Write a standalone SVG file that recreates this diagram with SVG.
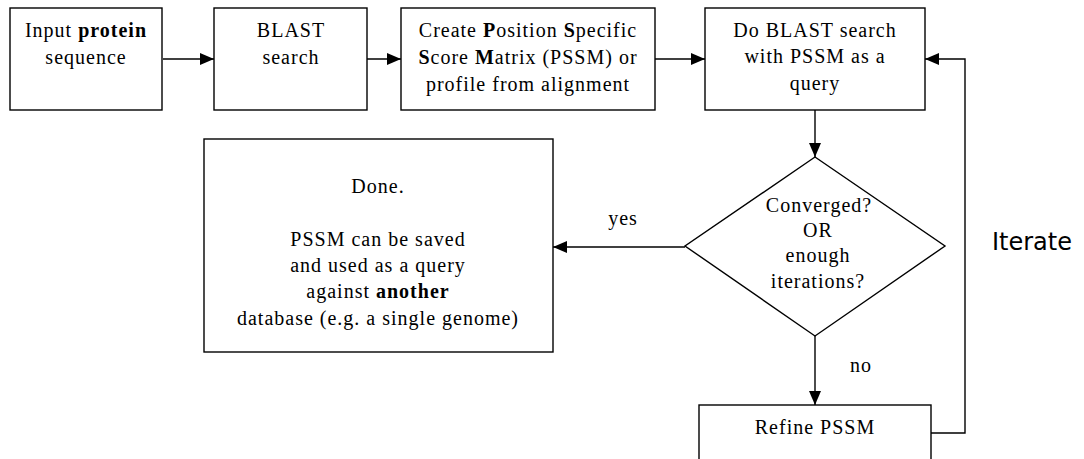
<svg xmlns="http://www.w3.org/2000/svg" width="1084" height="459" viewBox="0 0 1084 459">
<defs>
<marker id="ah" viewBox="0 0 14 12" refX="14" refY="6" markerWidth="14" markerHeight="12" markerUnits="userSpaceOnUse" orient="auto">
<path d="M0,0 L14,6 L0,12 Z" fill="#000"/>
</marker>
<style>
.box{fill:#fff;stroke:#000;stroke-width:1.4}
.t{font-family:'Liberation Serif','Times New Roman',serif;font-size:20px;letter-spacing:1px;fill:#000;text-anchor:middle}
.b{font-weight:bold}
.c{fill:none;stroke:#000;stroke-width:1.4}
.it{font-family:'DejaVu Sans',sans-serif;font-size:24px;fill:#000}
</style>
</defs>
<rect width="1084" height="459" fill="#fff"/>
<g id="connectors">
<line class="c" x1="163" y1="59" x2="214" y2="59" marker-end="url(#ah)"/>
<line class="c" x1="367" y1="59" x2="401" y2="59" marker-end="url(#ah)"/>
<line class="c" x1="655" y1="59" x2="705" y2="59" marker-end="url(#ah)"/>
<line class="c" x1="815" y1="110" x2="815" y2="157" marker-end="url(#ah)"/>
<line class="c" x1="685" y1="247" x2="553" y2="247" marker-end="url(#ah)"/>
<line class="c" x1="815" y1="336" x2="815" y2="405" marker-end="url(#ah)"/>
<polyline class="c" points="931,433 965,433 965,59 925,59" marker-end="url(#ah)"/>
<text class="t" x="623" y="225">yes</text>
<text class="t" x="861" y="372">no</text>
<text class="it" x="992" y="250">Iterate</text>
</g>
<g id="input">
<rect class="box" x="10" y="8" width="152" height="102"/>
<text class="t" x="86" y="37">Input <tspan class="b">protein</tspan></text>
<text class="t" x="86" y="64">sequence</text>
</g>
<g id="blast">
<rect class="box" x="214" y="8" width="153" height="102"/>
<text class="t" x="291" y="37">BLAST</text>
<text class="t" x="291" y="64">search</text>
</g>
<g id="pssm">
<rect class="box" x="401" y="8" width="254" height="102"/>
<text class="t" x="528" y="37">Create <tspan class="b">P</tspan>osition <tspan class="b">S</tspan>pecific</text>
<text class="t" x="528" y="64"><tspan class="b">S</tspan>core <tspan class="b">M</tspan>atrix (PSSM) or</text>
<text class="t" x="528" y="91">profile from alignment</text>
</g>
<g id="search">
<rect class="box" x="705" y="8" width="220" height="102"/>
<text class="t" x="815" y="37">Do BLAST search</text>
<text class="t" x="815" y="63">with PSSM as a</text>
<text class="t" x="815" y="90">query</text>
</g>
<g id="decision">
<polygon class="box" points="815,157 945,246 815,336 685,246"/>
<text class="t" x="819" y="212">Converged?</text>
<text class="t" x="818" y="237">OR</text>
<text class="t" x="818" y="262">enough</text>
<text class="t" x="818" y="288">iterations?</text>
</g>
<g id="done">
<rect class="box" x="204" y="139" width="349" height="213"/>
<text class="t" x="378" y="193">Done.</text>
<text class="t" x="378" y="246">PSSM can be saved</text>
<text class="t" x="378" y="272">and used as a query</text>
<text class="t" x="378" y="298">against <tspan class="b">another</tspan></text>
<text class="t" x="378" y="325">database (e.g. a single genome)</text>
</g>
<g id="refine">
<rect class="box" x="699" y="405" width="232" height="70"/>
<text class="t" x="815" y="434">Refine PSSM</text>
</g>
</svg>
